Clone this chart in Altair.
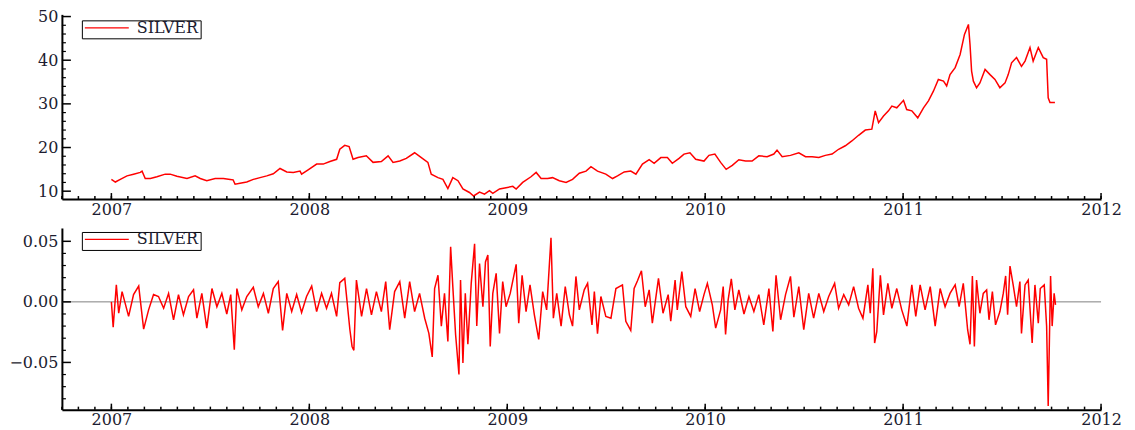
import altair as alt
import pandas as pd

# ---- data ----
PRICE = [
    (2007.000, 12.7), (2007.020, 12.1), (2007.045, 12.7), (2007.079, 13.5), (2007.112, 13.9),
    (2007.146, 14.3), (2007.155, 14.6), (2007.171, 12.9), (2007.197, 12.9), (2007.230, 13.3),
    (2007.272, 13.9), (2007.297, 13.9), (2007.331, 13.4), (2007.382, 12.9), (2007.423, 13.5),
    (2007.449, 12.9), (2007.482, 12.4), (2007.524, 12.9), (2007.566, 12.9), (2007.600, 12.7),
    (2007.615, 12.6), (2007.625, 11.6), (2007.650, 11.8), (2007.684, 12.1), (2007.717, 12.7),
    (2007.751, 13.1), (2007.785, 13.5), (2007.818, 14.0), (2007.852, 15.2), (2007.886, 14.4),
    (2007.919, 14.3), (2007.953, 14.6), (2007.961, 13.9), (2007.994, 14.9), (2008.037, 16.2),
    (2008.070, 16.2), (2008.104, 16.8), (2008.138, 17.3), (2008.154, 19.6), (2008.179, 20.5),
    (2008.201, 20.2), (2008.221, 17.3), (2008.246, 17.7), (2008.288, 18.1), (2008.322, 16.6),
    (2008.364, 16.8), (2008.398, 18.1), (2008.423, 16.6), (2008.457, 16.9), (2008.490, 17.5),
    (2008.532, 18.8), (2008.566, 17.7), (2008.599, 16.6), (2008.616, 13.9), (2008.650, 13.1),
    (2008.675, 12.7), (2008.700, 10.6), (2008.725, 13.1), (2008.751, 12.4), (2008.776, 10.5),
    (2008.809, 9.7), (2008.830, 8.9), (2008.860, 9.8), (2008.885, 9.3), (2008.910, 10.1),
    (2008.927, 9.5), (2008.961, 10.5), (2008.994, 10.8), (2009.028, 11.1), (2009.045, 10.5),
    (2009.078, 12.0), (2009.120, 13.3), (2009.146, 14.3), (2009.171, 12.9), (2009.204, 12.9),
    (2009.229, 13.1), (2009.263, 12.4), (2009.297, 12.0), (2009.330, 12.7), (2009.364, 14.1),
    (2009.398, 14.6), (2009.423, 15.6), (2009.456, 14.6), (2009.498, 13.9), (2009.532, 12.9),
    (2009.557, 13.5), (2009.591, 14.4), (2009.624, 14.6), (2009.650, 13.9), (2009.683, 16.2),
    (2009.717, 17.2), (2009.742, 16.4), (2009.776, 17.7), (2009.809, 17.7), (2009.834, 16.4),
    (2009.868, 17.5), (2009.893, 18.5), (2009.923, 18.8), (2009.952, 17.3), (2009.994, 16.9),
    (2010.019, 18.2), (2010.049, 18.5), (2010.078, 16.6), (2010.106, 15.0), (2010.137, 15.9),
    (2010.170, 17.2), (2010.204, 16.9), (2010.237, 16.9), (2010.271, 18.1), (2010.313, 17.9),
    (2010.347, 18.5), (2010.363, 19.4), (2010.389, 17.9), (2010.431, 18.2), (2010.473, 18.8),
    (2010.507, 17.9), (2010.540, 17.9), (2010.574, 17.7), (2010.607, 18.2), (2010.641, 18.5),
    (2010.674, 19.6), (2010.708, 20.4), (2010.741, 21.5), (2010.775, 22.8), (2010.809, 24.0),
    (2010.842, 24.2), (2010.859, 28.4), (2010.876, 25.7), (2010.901, 27.2), (2010.926, 28.4),
    (2010.943, 29.5), (2010.968, 29.1), (2011.002, 30.8), (2011.018, 28.7), (2011.044, 28.4),
    (2011.074, 26.8), (2011.103, 29.1), (2011.128, 30.7), (2011.153, 32.9), (2011.178, 35.6),
    (2011.204, 35.2), (2011.220, 34.1), (2011.237, 36.7), (2011.263, 38.3), (2011.288, 41.3),
    (2011.310, 45.9), (2011.330, 48.2), (2011.338, 43.6), (2011.346, 37.5), (2011.355, 35.2),
    (2011.371, 33.7), (2011.388, 34.8), (2011.414, 37.9), (2011.439, 36.7), (2011.464, 35.6),
    (2011.489, 33.7), (2011.515, 34.8), (2011.531, 36.7), (2011.548, 39.4), (2011.573, 40.6),
    (2011.598, 38.6), (2011.616, 39.8), (2011.641, 42.9), (2011.657, 39.8), (2011.683, 42.9),
    (2011.708, 40.6), (2011.725, 40.2), (2011.733, 31.4), (2011.742, 30.3), (2011.767, 30.3),
]

RETURNS = [
    (2007.000, 0.0), (2007.009, -0.021), (2007.025, 0.014), (2007.037, -0.0094), (2007.054, 0.0085),
    (2007.087, -0.012), (2007.112, 0.006), (2007.138, 0.013), (2007.163, -0.0225), (2007.188, -0.0066),
    (2007.213, 0.006), (2007.238, 0.0044), (2007.264, -0.0053), (2007.289, 0.007), (2007.314, -0.0148),
    (2007.339, 0.006), (2007.364, -0.0107), (2007.390, 0.0044), (2007.415, 0.010), (2007.432, -0.0135),
    (2007.457, 0.007), (2007.482, -0.0217), (2007.508, 0.011), (2007.533, -0.004), (2007.558, 0.007),
    (2007.583, -0.010), (2007.603, 0.006), (2007.621, -0.0395), (2007.634, 0.011), (2007.659, -0.0066),
    (2007.684, 0.0044), (2007.717, 0.012), (2007.742, -0.004), (2007.768, 0.007), (2007.793, -0.0094),
    (2007.818, 0.011), (2007.843, 0.0167), (2007.865, -0.0236), (2007.886, 0.007), (2007.911, -0.008),
    (2007.936, 0.006), (2007.961, -0.0088), (2007.986, 0.0044), (2008.012, 0.013), (2008.037, -0.008),
    (2008.062, 0.007), (2008.087, -0.0053), (2008.112, 0.007), (2008.138, -0.012), (2008.154, 0.0159),
    (2008.179, 0.0194), (2008.205, -0.023), (2008.216, -0.0368), (2008.225, -0.040), (2008.238, 0.018),
    (2008.264, -0.012), (2008.289, 0.011), (2008.314, -0.0107), (2008.339, 0.0085), (2008.364, -0.008),
    (2008.386, 0.0167), (2008.406, -0.023), (2008.431, 0.0085), (2008.457, 0.0167), (2008.482, -0.0135),
    (2008.507, 0.0167), (2008.532, -0.008), (2008.557, 0.007), (2008.583, -0.0135), (2008.604, -0.026),
    (2008.621, -0.0455), (2008.633, 0.011), (2008.650, 0.022), (2008.667, -0.020), (2008.683, 0.007),
    (2008.700, -0.0327), (2008.714, 0.0455), (2008.725, 0.0126), (2008.739, -0.027), (2008.756, -0.060),
    (2008.764, 0.018), (2008.776, -0.0505), (2008.788, 0.007), (2008.801, -0.035), (2008.818, 0.0153),
    (2008.835, 0.048), (2008.846, -0.020), (2008.860, 0.0317), (2008.877, -0.004), (2008.890, 0.033),
    (2008.902, 0.0386), (2008.914, -0.0368), (2008.927, 0.007), (2008.944, 0.0235), (2008.961, -0.026),
    (2008.977, 0.0167), (2008.994, -0.004), (2009.015, 0.007), (2009.045, 0.031), (2009.058, -0.0176),
    (2009.075, 0.022), (2009.095, -0.008), (2009.115, 0.014), (2009.137, -0.0107), (2009.159, -0.031),
    (2009.179, 0.0085), (2009.199, -0.0066), (2009.221, 0.053), (2009.233, -0.0135), (2009.250, 0.007),
    (2009.272, -0.020), (2009.293, 0.0126), (2009.314, -0.0107), (2009.330, -0.020), (2009.347, 0.021),
    (2009.364, -0.0066), (2009.389, 0.0099), (2009.406, 0.0153), (2009.428, -0.019), (2009.440, 0.0085),
    (2009.456, -0.0263), (2009.473, 0.0044), (2009.498, -0.012), (2009.524, -0.0135), (2009.549, 0.011),
    (2009.582, 0.014), (2009.599, -0.016), (2009.624, -0.0236), (2009.641, 0.011), (2009.658, 0.0175),
    (2009.678, 0.0257), (2009.697, -0.004), (2009.717, 0.0099), (2009.733, -0.0176), (2009.764, 0.0194),
    (2009.787, -0.0094), (2009.813, 0.006), (2009.826, -0.016), (2009.848, 0.018), (2009.859, -0.0066),
    (2009.882, 0.025), (2009.902, -0.004), (2009.927, -0.012), (2009.949, 0.011), (2009.972, -0.008),
    (2009.994, 0.006), (2010.011, 0.0153), (2010.036, -0.0025), (2010.053, -0.0217), (2010.078, -0.0066),
    (2010.091, 0.0126), (2010.103, -0.027), (2010.116, 0.0016), (2010.132, 0.019), (2010.150, -0.0066),
    (2010.170, 0.0099), (2010.196, -0.010), (2010.221, 0.0044), (2010.246, -0.008), (2010.271, 0.006),
    (2010.296, -0.019), (2010.322, 0.011), (2010.342, -0.0245), (2010.358, 0.022), (2010.381, -0.0148),
    (2010.406, 0.006), (2010.431, 0.021), (2010.448, -0.0127), (2010.473, 0.0126), (2010.498, -0.023),
    (2010.523, 0.007), (2010.548, -0.0135), (2010.574, 0.007), (2010.599, -0.008), (2010.624, 0.0044),
    (2010.654, 0.0153), (2010.674, -0.0053), (2010.700, 0.006), (2010.725, -0.0025), (2010.750, 0.0126),
    (2010.775, -0.0053), (2010.797, -0.0135), (2010.822, 0.014), (2010.834, -0.0094), (2010.847, 0.0277),
    (2010.856, -0.034), (2010.867, -0.0245), (2010.885, 0.022), (2010.901, -0.0107), (2010.923, 0.0153),
    (2010.943, -0.0053), (2010.968, 0.011), (2010.993, -0.0066), (2011.019, -0.020), (2011.044, 0.014),
    (2011.064, -0.012), (2011.086, 0.014), (2011.111, -0.0066), (2011.137, 0.0126), (2011.162, -0.020),
    (2011.187, 0.011), (2011.212, -0.004), (2011.237, 0.007), (2011.263, 0.014), (2011.283, -0.004),
    (2011.304, 0.0153), (2011.326, -0.023), (2011.338, -0.035), (2011.350, 0.0214), (2011.360, -0.0368),
    (2011.371, 0.018), (2011.388, -0.0094), (2011.405, 0.007), (2011.422, 0.0099), (2011.434, -0.0148),
    (2011.451, 0.0085), (2011.467, -0.019), (2011.489, -0.008), (2011.506, 0.007), (2011.518, 0.0214),
    (2011.528, -0.0107), (2011.540, 0.0296), (2011.556, 0.014), (2011.573, -0.004), (2011.590, 0.0167),
    (2011.598, -0.026), (2011.616, 0.014), (2011.632, 0.018), (2011.652, -0.034), (2011.666, 0.014),
    (2011.683, -0.0176), (2011.693, 0.011), (2011.713, 0.014), (2011.725, -0.020), (2011.733, -0.086),
    (2011.738, -0.042), (2011.745, 0.0214), (2011.753, -0.020), (2011.763, 0.007), (2011.770, -0.0025),
]

SERIES = "SILVER"
X_DOMAIN = [2006.75, 2012.0]
X_LABELS = [2007, 2008, 2009, 2010, 2011, 2012]
X_MINOR = [round(2006.75 + i / 12, 4) for i in range(64)]

TOP_DOMAIN = [8.2, 50.5]
TOP_MAJOR = [10, 20, 30, 40, 50]
TOP_MINOR = [v for v in range(12, 50, 2) if v % 10]

BOT_DOMAIN = [-0.089, 0.061]
BOT_MAJOR = [-0.05, 0.0, 0.05]
BOT_MINOR = [-0.08, -0.07, -0.06, -0.04, -0.03, -0.02, -0.01, 0.01, 0.02, 0.03, 0.04]

FONT = "DejaVu Serif"
TEXT = "#1c1c30"
RED = "#ff0000"
W = 1041


def panel(rows, ydom, h, ymaj, ymin, yfmt, legend_y, zero_line):
    df = pd.DataFrame(rows, columns=["year", "value"])
    df["series"] = SERIES
    xs = alt.Scale(domain=X_DOMAIN, nice=False, zero=False)
    ys = alt.Scale(domain=ydom, nice=False, zero=False)
    xax = alt.Axis(
        values=X_LABELS, format="d", title=None, labelFlush=False, labelPadding=2,
        domainWidth=2, domainColor="black", ticks=False, grid=False,
        labelFont=FONT, labelFontSize=16, labelColor=TEXT, labelOverlap=False)
    yax = alt.Axis(
        values=ymaj, format=yfmt, title=None, labelPadding=4,
        domainWidth=2, domainColor="black", ticks=False, grid=False,
        labelFont=FONT, labelFontSize=16, labelColor=TEXT, labelOverlap=False)

    line = alt.Chart(df).mark_line(strokeWidth=1.5, clip=True).encode(
        x=alt.X("year:Q", scale=xs, axis=xax, title=None),
        y=alt.Y("value:Q", scale=ys, axis=yax, title=None),
        color=alt.Color("series:N", scale=alt.Scale(domain=[SERIES], range=[RED]),
                        legend=alt.Legend(
                            title=None, orient="none", legendX=20, legendY=legend_y,
                            symbolType="stroke", symbolSize=1936, symbolStrokeWidth=1.2,
                            clipHeight=11, strokeColor="black", fillColor="white", padding=2,
                            labelFont=FONT, labelFontSize=16, labelColor=TEXT, labelOffset=7)),
    )

    def xrule(vals, length):
        return alt.Chart(pd.DataFrame({"year": vals})).mark_rule(color="black", strokeWidth=1.5).encode(
            x=alt.X("year:Q", scale=xs, axis=xax, title=None), y=alt.value(h), y2=alt.value(h - length))

    def yrule(vals, length, sw):
        return alt.Chart(pd.DataFrame({"value": vals})).mark_rule(color="black", strokeWidth=sw).encode(
            y=alt.Y("value:Q", scale=ys, axis=yax, title=None), x=alt.value(0), x2=alt.value(length))

    layers = []
    if zero_line:
        layers.append(alt.Chart(pd.DataFrame({"value": [0.0]})).mark_rule(color="#808080", strokeWidth=1).encode(
            y=alt.Y("value:Q", scale=ys, axis=yax, title=None)))
    layers += [line, xrule(X_MINOR, 3), xrule(X_LABELS, 6), yrule(ymin, 4, 1.2), yrule(ymaj, 9, 1.5)]
    return alt.layer(*layers).properties(width=W, height=h)


top = panel(PRICE, TOP_DOMAIN, 185, TOP_MAJOR, TOP_MINOR, "d", 6, False)
bot = panel(RETURNS, BOT_DOMAIN, 182, BOT_MAJOR, BOT_MINOR, ".2f", 4, True)

chart = alt.vconcat(top, bot, spacing=11).resolve_scale(color="independent").properties(
    padding={"left": 0, "top": 0, "right": 5, "bottom": 4}
).configure_view(stroke=None)

chart.save("out.html", embed_options={"renderer": "svg", "actions": False})
